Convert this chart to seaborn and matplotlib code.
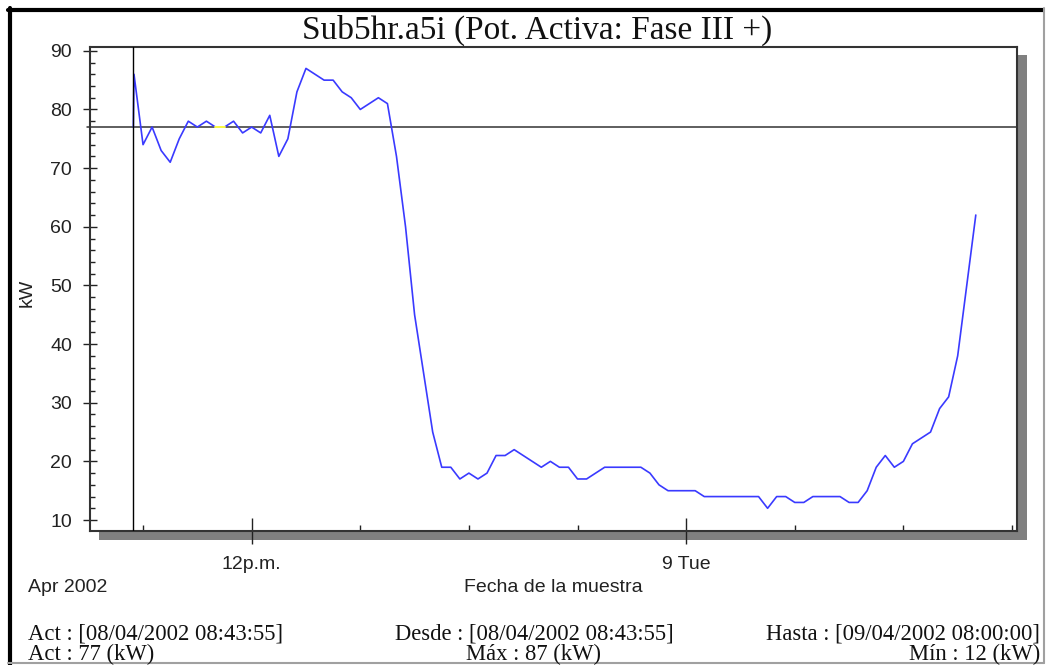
import numpy as np
import pandas as pd
import matplotlib
matplotlib.use("Agg")
import matplotlib.pyplot as plt
import matplotlib.dates as mdates
from matplotlib.patches import Rectangle
from matplotlib.lines import Line2D
import seaborn as sns

# ---------------- data ----------------
title = "Sub5hr.a5i (Pot. Activa: Fase III +)"
first_time = "2002-04-08 08:43:55"
first_kw = 77
sample_start = "2002-04-08 08:45"
sample_end = "2002-04-09 08:00"
sample_freq = "15min"

kw_08 = [86]
kw_09 = [74, 77, 73, 71]
kw_10 = [75, 78, 77, 78]
kw_11 = [77, 77, 78, 76]
kw_12 = [77, 76, 79, 72]
kw_13 = [75, 83, 87, 86]
kw_14 = [85, 85, 83, 82]
kw_15 = [80, 81, 82, 81]
kw_16 = [72, 60, 45, 35]
kw_17 = [25, 19, 19, 17]
kw_18 = [18, 17, 18, 21]
kw_19 = [21, 22, 21, 20]
kw_20 = [19, 20, 19, 19]
kw_21 = [17, 17, 18, 19]
kw_22 = [19, 19, 19, 19]
kw_23 = [18, 16, 15, 15]
kw_00 = [15, 15, 14, 14]
kw_01 = [14, 14, 14, 14]
kw_02 = [14, 12, 14, 14]
kw_03 = [13, 13, 14, 14]
kw_04 = [14, 14, 13, 13]
kw_05 = [15, 19, 21, 19]
kw_06 = [20, 23, 24, 25]
kw_07 = [29, 31, 38, 50]
kw_08_next = [62]

cursor_kw = 77
x_limits = ["2002-04-08 07:32:06", "2002-04-09 09:08:17"]
y_limits = [8.13, 90.65]
y_major = [10, 20, 30, 40, 50, 60, 70, 80, 90]
x_major = ["2002-04-08 12:00", "2002-04-09 00:00"]
x_major_labels = ["12p.m.", "9 Tue"]

info_left = ["Act : [08/04/2002 08:43:55]", "Act : 77 (kW)"]
info_mid = ["Desde : [08/04/2002 08:43:55]", "Máx : 87 (kW)"]
info_right = ["Hasta : [09/04/2002 08:00:00]", "Mín : 12 (kW)"]
x_title = "Fecha de la muestra"
y_title = "kW"
date_note = "Apr 2002"

kw_all = (kw_08 + kw_09 + kw_10 + kw_11 + kw_12 + kw_13 + kw_14 + kw_15 + kw_16
          + kw_17 + kw_18 + kw_19 + kw_20 + kw_21 + kw_22 + kw_23 + kw_00 + kw_01
          + kw_02 + kw_03 + kw_04 + kw_05 + kw_06 + kw_07 + kw_08_next)
times = [pd.Timestamp(first_time)] + list(pd.date_range(sample_start, sample_end, freq=sample_freq))
df = pd.DataFrame({"time": times, "kw": [first_kw] + kw_all})

# ---------------- figure ----------------
sns.set_style("white")
plt.rcParams["font.family"] = ["Liberation Sans", "DejaVu Sans"]

W, H = 1053, 665
fig = plt.figure(figsize=(W / 100, H / 100), dpi=100)
fig.patch.set_facecolor("white")

def fx(px):
    return px / W

def fy(py):
    return 1 - py / H

ax_l, ax_r, ax_t, ax_b = 90, 1017, 47, 531
ax = fig.add_axes([fx(ax_l), fy(ax_b), fx(ax_r) - fx(ax_l), fy(ax_t) - fy(ax_b)])
ax.set_zorder(2)
ax.set_facecolor("white")

# drop shadow
fig.patches.append(Rectangle((fx(99), fy(540)), fx(1027) - fx(99), fy(55) - fy(540),
                             transform=fig.transFigure, facecolor="#808080",
                             edgecolor="none", zorder=-5))

# outer window frame
fig.add_artist(Line2D([fx(8), fx(1043)], [fy(10), fy(10)], color="black", lw=3, transform=fig.transFigure))
fig.add_artist(Line2D([fx(10), fx(10)], [fy(8), fy(665)], color="black", lw=3, transform=fig.transFigure))
fig.add_artist(Line2D([fx(1044), fx(1044)], [fy(8), fy(663)], color="#a0a0a0", lw=1.5, transform=fig.transFigure))
fig.add_artist(Line2D([fx(8), fx(1044)], [fy(663), fy(663)], color="#a0a0a0", lw=1.5, transform=fig.transFigure))

sns.lineplot(data=df, x="time", y="kw", ax=ax, color="#3a3aff", lw=1.2, zorder=4)

# yellow segment where the trace lies on the cursor line
same = (df["kw"].values[:-1] == cursor_kw) & (df["kw"].values[1:] == cursor_kw)
for i in np.where(same)[0]:
    ax.plot(df["time"].iloc[i:i + 2], df["kw"].iloc[i:i + 2], color="#ffff40", lw=1.4, zorder=6)

# cursor lines
ax.axvline(pd.Timestamp(first_time), color="black", lw=1.0, zorder=5)
ax.axhline(cursor_kw, xmin=-0.003, xmax=1, color="#333333", lw=1.1, zorder=3, clip_on=False)

ax.set_xlim(pd.Timestamp(x_limits[0]), pd.Timestamp(x_limits[1]))
ax.set_ylim(*y_limits)

ax.set_yticks(y_major)
ax.set_yticklabels([str(v) for v in y_major])
ax.yaxis.set_minor_locator(matplotlib.ticker.MultipleLocator(2))
ax.set_xticks([pd.Timestamp(t) for t in x_major])
ax.set_xticklabels(x_major_labels)
ax.xaxis.set_minor_locator(mdates.HourLocator(byhour=range(0, 24, 3)))

ax.tick_params(axis="y", which="major", direction="inout", length=10, width=1,
               color="#222222", labelsize=14, labelcolor="#222222", pad=8, left=True)
ax.tick_params(axis="y", which="minor", direction="in", length=3.6, width=1,
               color="#222222", left=True)
ax.tick_params(axis="x", which="major", direction="inout", length=18.5, width=1,
               color="#222222", labelsize=14, labelcolor="#222222", pad=9, bottom=True)
ax.tick_params(axis="x", which="minor", direction="in", length=4.3, width=1,
               color="#222222", bottom=True)

for s in ax.spines.values():
    s.set_visible(True)
    s.set_color("#333333")
    s.set_linewidth(1.5)
ax.set_xlabel("")
ax.set_ylabel("")

# texts
fig.text(fx(537), fy(30), title, ha="center", va="center", fontsize=24,
         family=["Liberation Serif", "DejaVu Serif"], color="#111111")
fig.text(fx(27), fy(293), y_title, rotation=90, ha="center", va="center", fontsize=14, color="#222222")
fig.text(fx(553), fy(588), x_title, ha="center", va="center", fontsize=14, color="#222222")
fig.text(fx(28), fy(587), date_note, ha="left", va="center", fontsize=14, color="#222222")

serif = ["Liberation Serif", "DejaVu Serif"]
for i, yy in enumerate([634, 654]):
    fig.text(fx(28), fy(yy), info_left[i], ha="left", va="center", fontsize=16.3, family=serif, color="#111111")
    fig.text(fx(534), fy(yy), info_mid[i], ha="center", va="center", fontsize=16.3, family=serif, color="#111111")
    fig.text(fx(1040), fy(yy), info_right[i], ha="right", va="center", fontsize=16.3, family=serif, color="#111111")

fig.savefig("out.png", dpi=100, facecolor="white")
